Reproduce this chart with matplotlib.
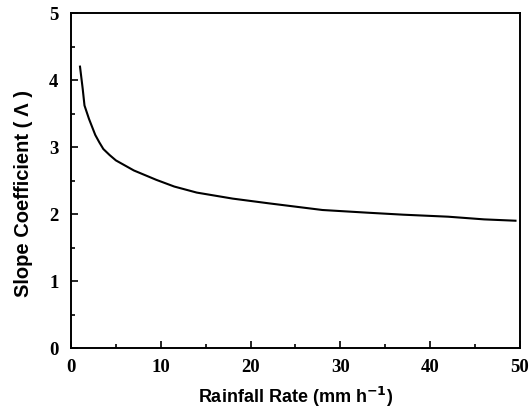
"""Slope coefficient vs rainfall rate"""
import matplotlib
matplotlib.use('Agg')
import matplotlib.pyplot as plt
from matplotlib.ticker import MultipleLocator

# values
rain_rate = [1.0, 1.3, 1.5, 2.0, 2.7, 3.15, 3.6, 4.3, 5.0, 7.0, 9.5, 11.5,
             14.0, 18.0, 22.0, 28.0, 33.0, 37.0, 42.0, 46.0, 49.5]
slope_coef = [4.20, 3.87, 3.62, 3.42, 3.18, 3.07, 2.97, 2.88, 2.80, 2.65,
              2.51, 2.41, 2.32, 2.23, 2.16, 2.06, 2.02, 1.99, 1.96, 1.92, 1.90]

x_ticks = [0, 10, 20, 30, 40, 50]
y_ticks = [0, 1, 2, 3, 4, 5]

fig = plt.figure(figsize=(5.32, 4.12), dpi=100)
ax = fig.add_axes([0.1335, 0.1553, 0.8439, 0.8131])

ax.plot(rain_rate, slope_coef, 'k-', linewidth=1.5)

ax.set_xlim(0, 50)
ax.set_ylim(0, 5)
ax.set_xticks(x_ticks)
ax.set_yticks(y_ticks)
ax.xaxis.set_minor_locator(MultipleLocator(5))
ax.yaxis.set_minor_locator(MultipleLocator(0.5))

for s in ax.spines.values():
    s.set_linewidth(1.4)

ax.tick_params(which='both', direction='in', top=False, right=False, width=1.2)
ax.tick_params(which='major', length=5)
ax.tick_params(which='minor', length=3)
ax.tick_params(axis='x', pad=8)
ax.tick_params(axis='y', pad=9)

for lbl in ax.get_xticklabels() + ax.get_yticklabels():
    lbl.set_fontfamily('Liberation Serif')
    lbl.set_fontweight('bold')
    lbl.set_fontsize(13.5)

ax.set_xlabel('Rainfall Rate (mm h$^{\\mathbf{-1}}$)', family='Liberation Sans',
              fontweight='bold', fontsize=13, labelpad=6)
ax.set_ylabel('Slope Coefficient ( Λ )', family='Liberation Sans',
              fontweight='bold', fontsize=14.5)
ax.yaxis.set_label_coords(-0.085, 0.46)

fig.savefig('out.png', dpi=100)
